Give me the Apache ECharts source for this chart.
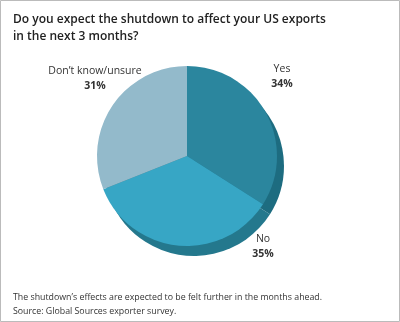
<!DOCTYPE html>
<html><head><meta charset="utf-8">
<script src="https://cdn.jsdelivr.net/npm/echarts@6/dist/echarts.min.js"></script>
<style>html,body{margin:0;padding:0;background:#fff}#c{width:400px;height:322px}</style>
</head><body><div id="c"></div>
<script>
var categories = ["Yes", "No", "Don\u2019t know/unsure"];
var values = [34, 35, 31];
var colors = ["#2b869e", "#37a6c5", "#93bacb"];
var depthColors = ["#1d6c80", "#24788d", "#24788d"];
var titleText = "Do you expect the shutdown to affect your US exports\nin the next 3 months?";
var footText = "The shutdown\u2019s effects are expected to be felt further in the months ahead.\nSource: Global Sources exporter survey.";
var labelPos = [[282, 77], [263, 247], [95, 79]];

var chart = echarts.init(document.getElementById('c'));
var font = "'Open Sans', 'Noto Sans', sans-serif";
chart.setOption({
  animation: false,
  title: [
    {text: titleText, left: 8, top: 6, textStyle: {fontFamily: font, fontSize: 12, fontWeight: 600, color: '#222', lineHeight: 17}},
    {text: footText, left: 8, top: 285, textStyle: {fontFamily: font, fontSize: 8.8, fontWeight: 'normal', color: '#333', lineHeight: 14}}
  ],
  graphic: [{type: 'rect', shape: {x: 0.5, y: 0.5, width: 399, height: 321}, style: {fill: 'none', stroke: '#bbbbbb', lineWidth: 1}, silent: true}],
  series: [
    {
      type: 'pie', center: [194, 166], radius: 90, startAngle: 90, silent: true, z: 1,
      label: {show: false}, labelLine: {show: false},
      data: categories.map(function (c, i) { return {name: c, value: values[i], itemStyle: {color: depthColors[i]}}; })
    },
    {
      type: 'pie', center: [187, 156], radius: 90, startAngle: 90, z: 2,
      itemStyle: {borderWidth: 0},
      label: {
        show: true, position: 'outside', fontFamily: font, fontSize: 10.5, color: '#333', align: 'center',
        overflow: 'none', width: 200,
        formatter: function (p) { return p.name + '\n{b|' + p.value + '%}'; },
        lineHeight: 15,
        rich: {b: {fontFamily: font, fontSize: 10.5, fontWeight: 'bold', color: '#333', lineHeight: 15}}
      },
      labelLine: {show: false},
      labelLayout: function (p) { return {x: labelPos[p.dataIndex][0], y: labelPos[p.dataIndex][1], align: 'center', verticalAlign: 'middle'}; },
      data: categories.map(function (c, i) { return {name: c, value: values[i], itemStyle: {color: colors[i]}}; })
    }
  ]
});
</script></body></html>
